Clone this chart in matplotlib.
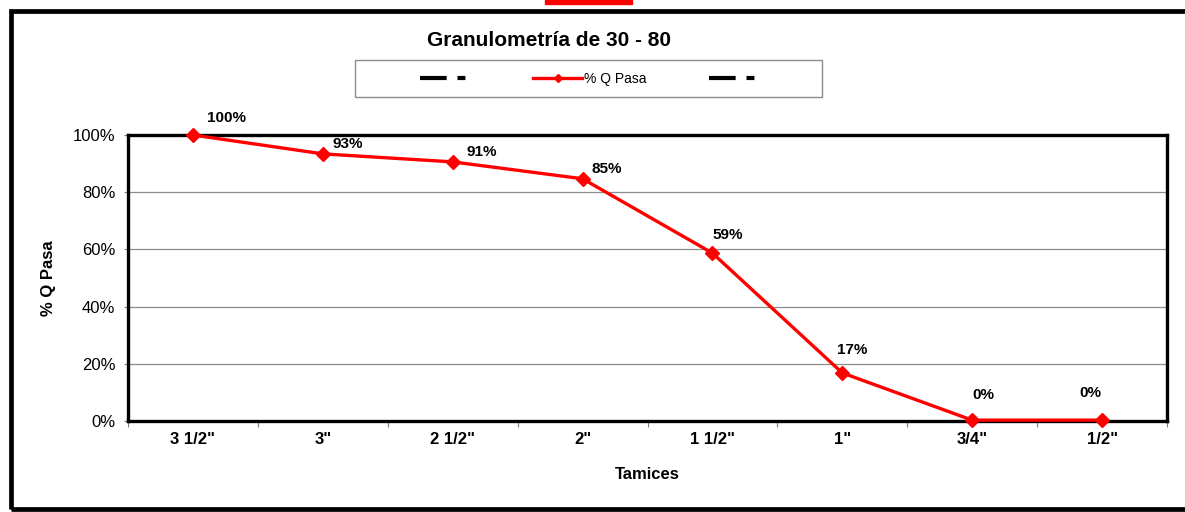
import matplotlib
matplotlib.use("Agg")
import matplotlib.pyplot as plt
from matplotlib.lines import Line2D
from matplotlib.patches import Rectangle
from matplotlib.ticker import FixedLocator, PercentFormatter

plt.rcParams["font.family"] = ["Liberation Sans", "DejaVu Sans"]

tamices = ['3 1/2"', '3"', '2 1/2"', '2"', '1 1/2"', '1"', '3/4"', '1/2"']
pct_pasa = [100.0, 93.4, 90.6, 84.7, 58.7, 16.8, 0.3, 0.3]
etiquetas = ["100%", "93%", "91%", "85%", "59%", "17%", "0%", "0%"]

# nudges for the data labels (pixels, left edge / vertical centre vs. point)
LABEL_NUDGE = [(14, 17), (10, 10), (14, 10), (9, 10), (0, 18), (-5, 23), (0, 25), (-23, 27)]

fig = plt.figure(figsize=(11.85, 5.12), dpi=100)
ax = fig.add_axes([128 / 1185, 91 / 512, 1039 / 1185, 286 / 512])

x = list(range(len(tamices)))
ax.plot(x, pct_pasa, color="#ff0000", lw=2.4, marker="D", ms=7,
        markeredgecolor="#ff0000", zorder=3, clip_on=False)

for xi, yi, lab, off in zip(x, pct_pasa, etiquetas, LABEL_NUDGE):
    ax.annotate(lab, (xi, yi), xytext=off, textcoords="offset pixels",
                ha="left", va="center", fontsize=11, fontweight="bold")

ax.set_xlim(-0.5, len(tamices) - 0.5)
ax.set_ylim(0, 100)
ax.yaxis.set_major_locator(FixedLocator([0, 20, 40, 60, 80, 100]))
ax.yaxis.set_major_formatter(PercentFormatter(decimals=0))
ax.grid(axis="y", color="#8c8c8c", lw=0.9)
ax.set_axisbelow(True)

ax.set_xticks(x)
ax.set_xticklabels(tamices, fontsize=12, fontweight="bold")
ax.tick_params(axis="x", which="major", length=0, pad=8)
ax.set_xticks([i - 0.5 for i in range(len(tamices) + 1)], minor=True)
ax.tick_params(axis="x", which="minor", length=4, width=0.8, color="#808080")
ax.tick_params(axis="y", labelsize=12, length=3, width=0.8, color="#808080", pad=6)

for s in ax.spines.values():
    s.set_linewidth(2.4)
    s.set_color("black")

ax.set_xlabel("Tamices", fontsize=12, fontweight="bold", labelpad=14)
ax.set_ylabel("% Q Pasa", fontsize=12, fontweight="bold", labelpad=12)

fig.text(549 / 1185, 1 - 41 / 512, "Granulometría de 30 - 80", ha="center", va="center",
         fontsize=15, fontweight="bold")

dashdot = (0, (6.4, 2.6, 1.9, 6))
handles = [
    Line2D([], [], color="black", lw=3, ls=dashdot),
    Line2D([], [], color="#ff0000", lw=2.4, marker="D", ms=4.5),
    Line2D([], [], color="black", lw=3, ls=dashdot),
]
fig.legend(handles, ["", "% Q Pasa", ""], ncol=3, loc="center",
           bbox_to_anchor=(590 / 1185, 1 - 78.5 / 512), frameon=False,
           fontsize=10, handlelength=3.5, handletextpad=0.15, columnspacing=4.5)
fig.patches.append(Rectangle((355 / 1185, 1 - 97 / 512), 467 / 1185, 37 / 512,
                             transform=fig.transFigure, fill=False,
                             edgecolor="#8c8c8c", lw=1.0))

fig.patches.append(Rectangle((11 / 1185, 3 / 512), 1.2, 498 / 512, transform=fig.transFigure,
                             fill=False, edgecolor="black", lw=3.4))
fig.patches.append(Rectangle((545 / 1185, 508 / 512), 87 / 1185, 4 / 512,
                             transform=fig.transFigure, color="#ff0000"))

fig.savefig("out.png", dpi=100)
